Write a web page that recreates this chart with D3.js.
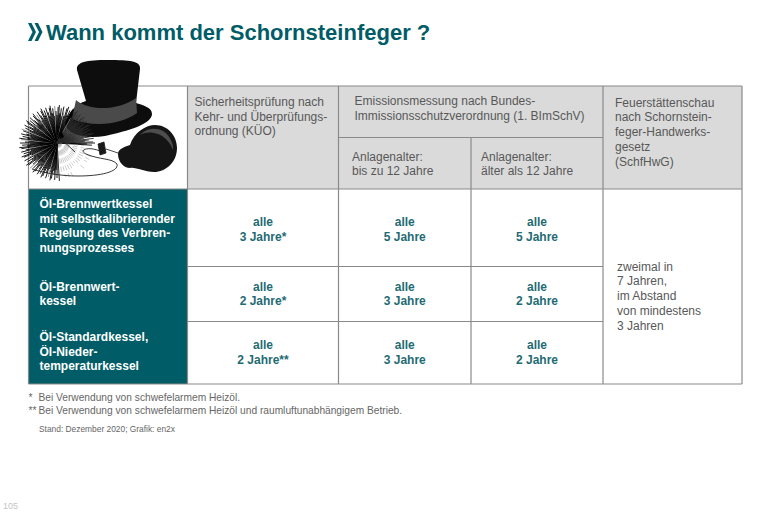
<!DOCTYPE html>
<html>
<head>
<meta charset="utf-8">
<script src="https://cdn.jsdelivr.net/npm/d3@7"></script>
<style>
  body { margin: 0; background: #fff; }
  text { font-family: "Liberation Sans", sans-serif; }
</style>
</head>
<body>
<div id="chart"></div>
<script>
var title = "Wann kommt der Schornsteinfeger ?";

// table content
var boilerLabels = [
  ["Öl-Brennwertkessel", "mit selbstkalibrierender", "Regelung des Verbren-", "nungsprozesses"],
  ["Öl-Brennwert-", "kessel"],
  ["Öl-Standardkessel,", "Öl-Nieder-", "temperaturkessel"]
];
var inspectionYears = [3, 2, 2];
var inspectionMarks = ["*", "*", "**"];
var emissionYoungYears = [5, 3, 3];
var emissionOldYears = [5, 2, 2];

var inspectionHeader = ["Sicherheitsprüfung nach", "Kehr- und Überprüfungs-", "ordnung (KÜO)"];
var emissionHeader = ["Emissionsmessung nach Bundes-", "Immissionsschutzverordnung (1. BImSchV)"];
var youngHeader = ["Anlagenalter:", "bis zu 12 Jahre"];
var oldHeader = ["Anlagenalter:", "älter als 12 Jahre"];
var fireplaceHeader = ["Feuerstättenschau", "nach Schornstein-", "feger-Handwerks-", "gesetz", "(SchfHwG)"];
var fireplaceText = ["zweimal in", "7 Jahren,", "im Abstand", "von mindestens", "3 Jahren"];
var footnoteMarks = ["*", "**"];
var footnotes = ["Bei Verwendung von schwefelarmem Heizöl.", "Bei Verwendung von schwefelarmem Heizöl und raumluftunabhängigem Betrieb."];
var source = "Stand: Dezember 2020; Grafik: en2x";

var teal = "#005c66";
var tealText = "#1f6b73";
var grey = "#dadada";
var lineColor = "#8a8a8a";
var textGrey = "#585858";

var w = 768;
var h = 512;

var svg = d3.select("#chart")
  .append("svg")
  .attr("width", w)
  .attr("height", h)
  .style("display", "block");

// column and row edges of the table
var col = d3.scaleOrdinal()
  .domain(["left", "inspection", "young", "old", "fireplace", "right"])
  .range([28.5, 187.5, 338.5, 471, 603, 742]);
var rowTop = d3.scaleOrdinal()
  .domain(["head", "sub", 0, 1, 2, 3])
  .range([86, 137.5, 189, 266.5, 321.5, 384]);

function box(x0, y0, x1, y1, fill) {
  svg.append("rect")
    .attr("x", x0)
    .attr("y", y0)
    .attr("width", x1 - x0)
    .attr("height", y1 - y0)
    .attr("fill", fill);
}

function rule(x0, y0, x1, y1, width) {
  svg.append("line")
    .attr("x1", x0)
    .attr("y1", y0)
    .attr("x2", x1)
    .attr("y2", y1)
    .attr("stroke", lineColor)
    .attr("stroke-width", width || 1.2);
}

// several lines of text, baseline of the first one at y
function lines(list, x, y, step, opts) {
  opts = opts || {};
  svg.append("g")
    .selectAll("text")
    .data(list)
    .enter()
    .append("text")
    .attr("x", x)
    .attr("y", function(d, i) {
      return y + i * step;
    })
    .attr("text-anchor", opts.anchor || "start")
    .attr("font-size", (opts.size || 12) + "px")
    .attr("font-weight", opts.weight || "normal")
    .attr("letter-spacing", opts.spacing || 0)
    .attr("fill", opts.fill || textGrey)
    .text(function(d) {
      return d;
    });
}

// title with double chevron
var chevron = svg.append("g").attr("fill", teal);
[28, 34.5].forEach(function(x) {
  chevron.append("path")
    .attr("d", "M" + x + ",23 h3.5 l4.5,9 l-4.5,9 h-3.5 l4.5,-9 z");
});
svg.append("text")
  .attr("x", 46)
  .attr("y", 40)
  .attr("font-size", "22px")
  .attr("font-weight", "bold")
  .attr("fill", teal)
  .text(title);

// fills
box(col("inspection"), rowTop("head"), col("right"), rowTop(0), grey);
box(col("left"), rowTop(0), col("inspection"), rowTop(3), teal);

// grid lines
rule(col("left"), rowTop("head"), col("right"), rowTop("head"));
rule(col("young"), rowTop("sub"), col("fireplace"), rowTop("sub"));
rule(col("left"), rowTop(0), col("right"), rowTop(0));
rule(col("inspection"), rowTop(1), col("fireplace"), rowTop(1));
rule(col("inspection"), rowTop(2), col("fireplace"), rowTop(2));
rule(col("left"), rowTop(3), col("right"), rowTop(3));
rule(col("left"), rowTop("head"), col("left"), rowTop(3));
rule(col("inspection"), rowTop("head"), col("inspection"), rowTop(3));
rule(col("young"), rowTop("head"), col("young"), rowTop(3));
rule(col("old"), rowTop("sub"), col("old"), rowTop(3));
rule(col("fireplace"), rowTop("head"), col("fireplace"), rowTop(3));
rule(col("right"), rowTop("head"), col("right"), rowTop(3));

// header text
lines(inspectionHeader, col("inspection") + 7, 106, 14.6);
lines(emissionHeader, col("young") + 16, 105, 14.6);
lines(youngHeader, col("young") + 13.5, 160.5, 14.6);
lines(oldHeader, col("old") + 10, 160.5, 14.6);
lines(fireplaceHeader, col("fireplace") + 12, 106.5, 14.8);

// row labels
var labelFirstLine = [208, 290.5, 341];
boilerLabels.forEach(function(label, i) {
  lines(label, 39.5, labelFirstLine[i], 14.6, { weight: "bold", fill: "#fff" });
});

// interval cells
var cellFirstLine = [226, 290.5, 349];
var cellColumns = [
  { key: "inspection", next: "young", years: inspectionYears, marks: inspectionMarks },
  { key: "young", next: "old", years: emissionYoungYears, marks: ["", "", ""] },
  { key: "old", next: "fireplace", years: emissionOldYears, marks: ["", "", ""] }
];
cellColumns.forEach(function(c) {
  var cx = (col(c.key) + col(c.next)) / 2;
  c.years.forEach(function(y, i) {
    lines(["alle", y + " Jahre" + c.marks[i]], cx, cellFirstLine[i], 14.6, {
      anchor: "middle",
      weight: "bold",
      fill: tealText
    });
  });
});

lines(fireplaceText, col("fireplace") + 14, 270.5, 14.9);

// footnotes
lines(footnoteMarks, 28.5, 401, 12.6, { size: 10.2, fill: "#666" });
lines(footnotes, 38.5, 401, 12.6, { size: 10.2, fill: "#666" });
lines([source], 39, 432, 0, { size: 8.4, fill: "#666" });
lines(["105"], 3, 509, 0, { size: 9, fill: "#c4c4c4" });

// chimney sweep illustration: hat
var art = svg.append("g");
art.append("path")
  .attr("d", "M65,124 C68,112 76,104 86,101 L77,70 C76,62 86,60 108,60 C130,60 141,61 140,69 L136,103 C142,105 152,107 152,114 C152,124 128,131 105,136 C88,139 68,136 65,124 Z")
  .attr("fill", "#0d0d0d");
art.append("path")
  .attr("d", "M76,100 C90,112 120,110 136,98 L137,113 C122,124 95,128 72,119 Z")
  .attr("fill", "#4a4a4a");

// brush bristles radiating from the centre, drawn in a fixed pattern
var brushX = 57;
var brushY = 143;
var bristleLengths = [38, 30, 35, 27, 37, 32, 28, 36];
var brush = art.append("g");
brush.selectAll("line")
  .data(d3.range(0, 360, 1.8))
  .enter()
  .append("line")
  .attr("x1", brushX)
  .attr("y1", brushY)
  .attr("x2", function(d, i) {
    return brushX + Math.cos(d * Math.PI / 180) * bristleLengths[i % 8];
  })
  .attr("y2", function(d, i) {
    return brushY + Math.sin(d * Math.PI / 180) * bristleLengths[i % 8];
  })
  .attr("stroke", function(d, i) {
    if (d > 5 && d < 85) return i % 3 === 0 ? "#999" : "none";
    if (d >= 300) return "#2a2a2a";
    return i % 9 === 4 ? "#888" : "#000";
  })
  .attr("stroke-dasharray", function(d) {
    return d > 5 && d < 85 ? "5 3" : null;
  })
  .attr("stroke-width", function(d) {
    return d > 5 && d < 85 ? 0.5 : 0.9;
  });

// handle, wire and rubber ball
art.append("path")
  .attr("d", "M57,135 L75,152 M100,151 C88,146 78,150 86,154 C100,160 112,158 117,164 C119,172 100,176 78,176 C60,176 45,173 32,169")
  .attr("fill", "none")
  .attr("stroke", "#222")
  .attr("stroke-width", 0.9);
art.append("path")
  .attr("d", "M58,134 l4,-2 l2,5 l-4,2 z")
  .attr("fill", "#000");
art.append("path")
  .attr("d", "M98,144 L104,142 L106,153 L100,155 Z M106,149 L118,153")
  .attr("fill", "#1a1a1a")
  .attr("stroke", "#1a1a1a")
  .attr("stroke-width", 0.8);
art.append("path")
  .attr("d", "M118,154 C118,149 124,147 130,145 C134,132 146,125 155,125 C168,125 177,136 177,148 C177,162 166,172 154,172 C144,172 136,167 130,168 C124,168 118,162 118,154 Z")
  .attr("fill", "#151515");
art.append("path")
  .attr("d", "M140,135 C146,128 156,127 163,131 C171,136 174,146 173,150 C170,141 162,134 154,133 C148,132 143,133 140,135 Z")
  .attr("fill", "#4d4d4d");
</script>
</body>
</html>
